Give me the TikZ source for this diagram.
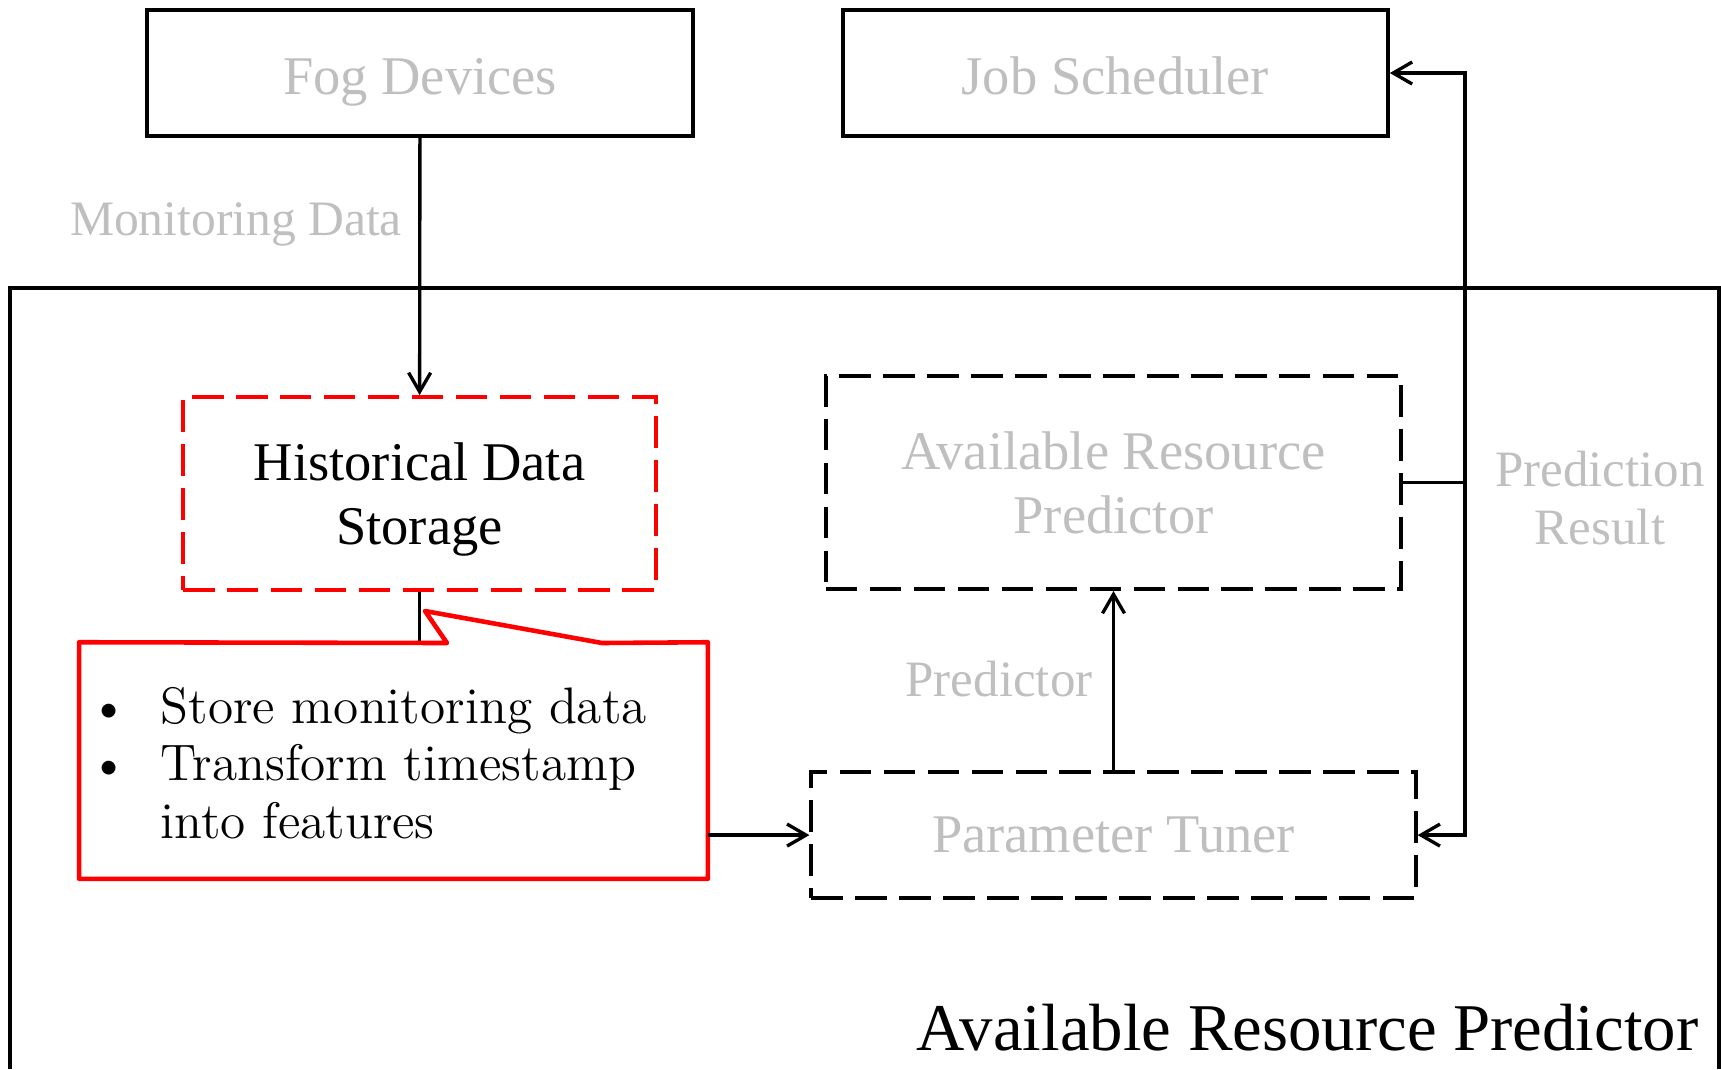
\documentclass[tikz,border=0pt]{standalone}
\usepackage{fontspec}
\newfontfamily\cam{Liberation Serif}
\usepackage{tikz}
\usetikzlibrary{arrows.meta,positioning}
\definecolor{labelgray}{RGB}{191,191,191}
\tikzstyle{box} = [draw, line width=1pt, text=labelgray, align=center, text depth=0pt, font=\cam\fontsize{15.5}{18}\selectfont]
\tikzstyle{dashbox} = [box, line width=1.1pt, dash pattern=on 9pt off 3.5pt]
\tikzstyle{reddash} = [dashbox, draw=red, text=black]
\tikzstyle{flow} = [line width=0.95pt, -{Straight Barb[length=1.9mm,width=2.2mm]}]
\tikzstyle{lbl} = [text=labelgray, align=center, font=\cam\fontsize{14.5}{16.5}\selectfont]

\begin{document}
\begin{tikzpicture}[x=0.01cm,y=-0.01cm]
\useasboundingbox (0,0) rectangle (1721,1069);

\node[box, minimum width=5.46cm, minimum height=1.26cm, text height=12.5pt] (fog) at (420,73) {Fog Devices};
\node[box, minimum width=5.45cm, minimum height=1.26cm, text height=12.5pt, right=1.46cm of fog] (job) {Job Scheduler};

% predictor frame
\draw[line width=1.1pt] (10,1069) -- (10,288) -- (1719,288) -- (1719,1069);

\node[reddash, minimum width=4.73cm, minimum height=1.93cm] (hds) at (419.5,493.5) {Historical Data\\Storage};
\node[dashbox, minimum width=5.75cm, minimum height=2.13cm] (arp) at (1113.5,482.5) {Available Resource\\Predictor};
\node[dashbox, minimum width=6.04cm, minimum height=1.26cm, below=1.79cm of arp] (tuner) {Parameter Tuner};

% callout
\node[minimum width=6.27cm, minimum height=2.35cm] (note) at (393.5,760.5) {};
\coordinate (tip) at (425,611);
\coordinate (pl) at (447,643);
\coordinate (pr) at (602,643);
\draw[line width=0.8pt] (hds) -- (hds |- note.north);
\draw[red, line width=1.3pt, line join=round] (note.north west) -- (pl) -- (tip) -- (pr) -- (note.north east) -- (note.south east) -- (note.south west) -- cycle;
\node[anchor=base west, inner sep=0pt, font=\fontsize{14.6}{16.4}\selectfont] (notetext) at (89,723)
  {\begin{tabular}[t]{@{}p{0.71cm}@{}l@{}}
   \textbullet & Store monitoring data\\
   \textbullet & Transform timestamp\\
               & into features
   \end{tabular}};

\coordinate (bus) at (1465,0);
\draw[flow] (fog) -- (hds);
\draw[flow] (tuner.west -| note.east) -- (tuner.west);
\draw[flow] (tuner) -- (arp);
\draw[flow] (arp.east) -- (arp.east -| bus) |- (job.east);
\draw[flow] (arp.east -| bus) |- (tuner.east);

\node[lbl, anchor=base, font=\cam\fontsize{14.1}{16.5}\selectfont] (mon) at (236,235) {Monitoring Data};
\node[lbl, anchor=base] (pred) at (999,696) {Predictor};
\node[lbl] (res) at (1600,498) {Prediction\\Result};
\node[anchor=base east, inner sep=0pt, font=\cam\fontsize{19}{22}\selectfont] (title) at (1699,1050) {Available Resource Predictor};
\end{tikzpicture}
\end{document}
